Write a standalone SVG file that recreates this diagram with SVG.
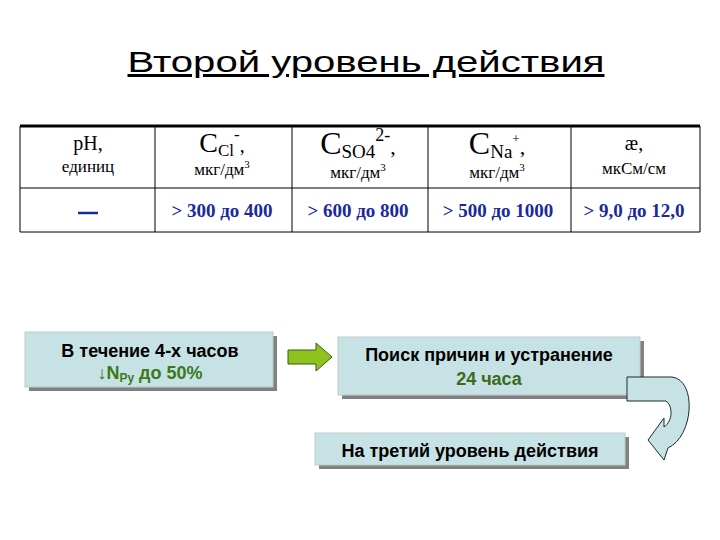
<svg xmlns="http://www.w3.org/2000/svg" width="720" height="540" viewBox="0 0 720 540">
<style>
.s{font-family:"Liberation Serif",serif;fill:#000;text-anchor:middle}
.v{font-family:"Liberation Serif",serif;fill:#1a2a9a;text-anchor:middle;font-size:19px;font-weight:bold}
.b{font-family:"Liberation Sans",sans-serif;font-weight:bold;text-anchor:middle;font-size:18px}
.box{fill:#c6e2e4;stroke:#bcc;stroke-width:1}
.sh{fill:#808080}
</style>
<rect width="720" height="540" fill="#fff"/>
<text x="366" y="72" font-family="Liberation Sans,sans-serif" font-size="30" text-anchor="middle" text-decoration="underline" textLength="477" lengthAdjust="spacingAndGlyphs">Второй  уровень действия</text>
<g id="table" stroke="#000" fill="none">
<line x1="20" y1="126" x2="700" y2="126" stroke-width="3"/>
<line x1="20" y1="188" x2="700" y2="188"/>
<line x1="20" y1="232" x2="700" y2="232"/>
<line x1="20" y1="126" x2="20" y2="232"/>
<line x1="155" y1="126" x2="155" y2="232"/>
<line x1="292" y1="126" x2="292" y2="232"/>
<line x1="428" y1="126" x2="428" y2="232"/>
<line x1="571" y1="126" x2="571" y2="232"/>
<line x1="700" y1="126" x2="700" y2="232"/>
</g>
<g id="headers">
<text class="s" x="88" y="150" font-size="20">рН,</text>
<text class="s" x="88" y="172" font-size="17">единиц</text>
<text class="s" x="222" y="152" font-size="28">С<tspan font-size="17" dy="4">Cl</tspan><tspan font-size="17" dy="-16">-</tspan><tspan dy="12" font-size="20">,</tspan></text>
<text class="s" x="222" y="175" font-size="17">мкг/дм<tspan font-size="11" dy="-7">3</tspan></text>
<text class="s" x="358" y="154" font-size="32">С<tspan font-size="19" dy="4">SO4</tspan><tspan font-size="18" dy="-17">2-</tspan><tspan dy="13" font-size="22">,</tspan></text>
<text class="s" x="358" y="178" font-size="17">мкг/дм<tspan font-size="11" dy="-7">3</tspan></text>
<text class="s" x="497" y="154" font-size="32">С<tspan font-size="19" dy="4">Na</tspan><tspan font-size="13" dy="-15">+</tspan><tspan dy="11" font-size="22">,</tspan></text>
<text class="s" x="497" y="178" font-size="17">мкг/дм<tspan font-size="11" dy="-7">3</tspan></text>
<text class="s" x="634" y="150" font-size="20">æ,</text>
<text class="s" x="634" y="174" font-size="17">мкСм/см</text>
</g>
<g id="values">
<line x1="78" y1="213" x2="98" y2="213" stroke="#1a2a9a" stroke-width="2.5"/>
<text class="v" x="222" y="217">&gt; 300 до 400</text>
<text class="v" x="358" y="217">&gt; 600 до 800</text>
<text class="v" x="498" y="217">&gt; 500 до 1000</text>
<text class="v" x="634" y="217">&gt; 9,0 до 12,0</text>
</g>
<g id="box1">
<rect class="sh" x="29" y="336" width="248" height="55"/>
<rect class="box" x="25" y="332" width="248" height="55"/>
<text class="b" x="150" y="357">В течение 4-х часов</text>
<text class="b" x="150" y="379" fill="#3a7a1a">↓N<tspan font-size="12" dy="3">Ру</tspan><tspan dy="-3"> до 50%</tspan></text>
</g>
<g id="box2">
<rect class="sh" x="342" y="341" width="302" height="58"/>
<rect class="box" x="338" y="337" width="302" height="58"/>
<text class="b" x="489" y="361">Поиск причин и устранение</text>
<text class="b" x="489" y="385" fill="#3a6a1a">24 часа</text>
</g>
<g id="box3">
<rect class="sh" x="319" y="437" width="310" height="32"/>
<rect class="box" x="315" y="433" width="310" height="32"/>
<text class="b" x="470" y="457">На третий уровень действия</text>
</g>
<g id="connectors">
<path d="M288,350 L316,350 L316,343 L332,357 L316,371 L316,364 L288,364 Z" fill="#8dc21f" stroke="#3a5a10" stroke-width="1"/>
<path d="M627,377 L672,377 C697,380 694,436 668,448 L664,460 L648,440 L664,418 L664,427 C673,421 673,406 666,401 L627,401 Z" fill="#c6e2e4" stroke="#1a2a2a" stroke-width="1"/>
</g>
</svg>
